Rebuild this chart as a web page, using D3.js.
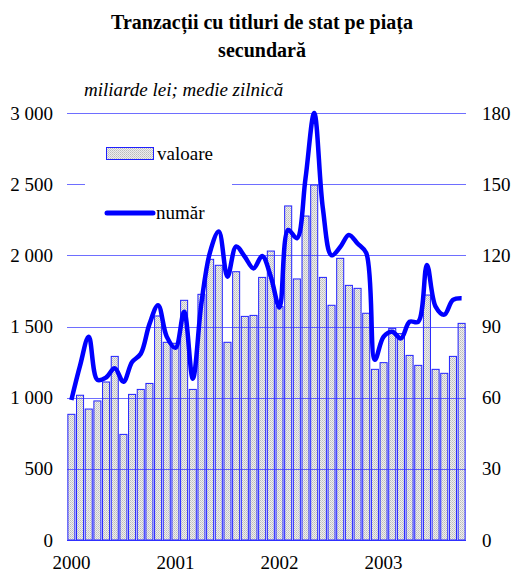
<!DOCTYPE html>
<html>
<head>
<meta charset="utf-8">
<script src="https://cdn.jsdelivr.net/npm/d3@7"></script>
<style>
  body { margin: 0; background: #fff; }
</style>
</head>
<body>
<div id="chart"></div>
<script>
// monthly data, Jan 2000 - Oct 2003
var years = ["2000", "2001", "2002", "2003"]
var months = d3.range(46).map(function(i) { return years[Math.floor(i / 12)] + "-" + (i % 12 + 1) })

// valoare: miliarde lei, medie zilnica (left axis)
var valoare = [883, 1017, 920, 977, 1110, 1290, 742, 1023, 1058, 1100, 1574, 1389,
               1382, 1684, 1058, 1726, 1972, 1930, 1389, 1885, 1571, 1578, 1845, 2030,
               1640, 2347, 1834, 2276, 2494, 1845, 1649, 1979, 1789, 1768, 1593, 1199,
               1246, 1487, 1450, 1297, 1227, 1721, 1199, 1171, 1290, 1522]

// numar tranzactii (right axis)
var numar = [59, 73.5, 85.7, 67.5, 68.5, 72.4, 66.7, 75, 78.5, 91, 99, 85.7,
             81, 96.2, 68, 100, 121.5, 130, 111, 123.7, 119.4, 114.5, 119.7, 111,
             98, 130.7, 127.2, 152.5, 180, 139.8, 120, 123.5, 128.6, 125, 121, 76,
             85.7, 87.8, 85, 92, 92, 115.9, 98.4, 95, 101.2, 101.9]

var leftTicks = [0, 500, 1000, 1500, 2000, 2500, 3000]
var rightTicks = [0, 30, 60, 90, 120, 150, 180]

var width = 512
var height = 575
var plot = { left: 67, right: 466, top: 113, bottom: 540 }
var serif = "'Liberation Serif', 'Times New Roman', 'DejaVu Serif', serif"

var svg = d3.select("#chart")
  .append("svg")
    .attr("width", width)
    .attr("height", height)
    .attr("font-family", serif)

// dotted grey fill of the bars
var pat = svg.append("defs").append("pattern")
    .attr("id", "dots")
    .attr("width", 2)
    .attr("height", 2)
    .attr("patternUnits", "userSpaceOnUse")
pat.append("rect").attr("width", 2).attr("height", 2).attr("fill", "#eeeeee")
pat.append("rect").attr("width", 1).attr("height", 1).attr("fill", "#bcbcbc")
pat.append("rect").attr("x", 1).attr("y", 1).attr("width", 1).attr("height", 1).attr("fill", "#cccccc")

var x = d3.scaleBand()
  .domain(months)
  .range([plot.left, plot.right])
  .paddingInner(0.19)
  .paddingOuter(0.1)

var yLeft = d3.scaleLinear().domain([0, 3000]).range([plot.bottom, plot.top])
var yRight = d3.scaleLinear().domain([0, 180]).range([plot.bottom, plot.top])

// titles
svg.append("text")
  .attr("x", 262).attr("y", 29)
  .attr("text-anchor", "middle")
  .attr("font-size", 20).attr("font-weight", "bold")
  .text("Tranzacții cu titluri de stat pe piața")
svg.append("text")
  .attr("x", 262).attr("y", 57)
  .attr("text-anchor", "middle")
  .attr("font-size", 20).attr("font-weight", "bold")
  .text("secundară")
svg.append("text")
  .attr("x", 84).attr("y", 96)
  .attr("font-size", 19).attr("font-style", "italic")
  .text("miliarde lei; medie zilnică")

// bars
svg.selectAll("rect.bar")
  .data(valoare)
  .enter()
  .append("rect")
    .attr("class", "bar")
    .attr("x", function(d, i) { return x(months[i]) })
    .attr("width", x.bandwidth())
    .attr("y", function(d) { return yLeft(d) })
    .attr("height", function(d) { return plot.bottom - yLeft(d) })
    .attr("fill", "url(#dots)")
    .attr("stroke", "#2020ff")
    .attr("stroke-width", 1)

// gridlines over the bars
svg.selectAll("line.grid")
  .data(leftTicks)
  .enter()
  .append("line")
    .attr("x1", plot.left)
    .attr("x2", plot.right)
    .attr("y1", function(d) { return Math.round(yLeft(d)) + 0.5 })
    .attr("y2", function(d) { return Math.round(yLeft(d)) + 0.5 })
    .attr("stroke", "#3030ff")
    .attr("stroke-opacity", function(d) { return d == 0 ? 1 : 0.7 })
    .attr("stroke-width", 1)

// legend (white box hides the grid behind it)
svg.append("rect")
  .attr("x", 85).attr("y", 128).attr("width", 147).attr("height", 108)
  .attr("fill", "#fff")
svg.append("rect")
  .attr("x", 106.5).attr("y", 147.5).attr("width", 47).attr("height", 12)
  .attr("fill", "url(#dots)").attr("stroke", "#2020ff")
svg.append("text")
  .attr("x", 157).attr("y", 160)
  .attr("font-size", 19)
  .text("valoare")
svg.append("line")
  .attr("x1", 107).attr("x2", 153).attr("y1", 213).attr("y2", 213)
  .attr("stroke", "#0000ff").attr("stroke-width", 5).attr("stroke-linecap", "round")
svg.append("text")
  .attr("x", 156).attr("y", 219)
  .attr("font-size", 19)
  .text("număr")

// numar line
var line = d3.line()
  .x(function(d, i) { return x(months[i]) + x.bandwidth() / 2 })
  .y(function(d) { return yRight(d) })
  .curve(d3.curveCatmullRom.alpha(0.5))

svg.append("path")
  .datum(numar)
  .attr("d", line)
  .attr("fill", "none")
  .attr("stroke", "#0000ff")
  .attr("stroke-width", 4.5)
  .attr("stroke-linejoin", "round")

// axes labels
svg.selectAll("text.yl")
  .data(leftTicks)
  .enter()
  .append("text")
    .attr("x", 53)
    .attr("y", function(d) { return yLeft(d) })
    .attr("dy", "0.35em")
    .attr("text-anchor", "end")
    .attr("font-size", 19)
    .text(function(d) { return d3.format(",")(d).replace(",", " ") })

svg.selectAll("text.yr")
  .data(rightTicks)
  .enter()
  .append("text")
    .attr("x", 482)
    .attr("y", function(d) { return yRight(d) })
    .attr("dy", "0.35em")
    .attr("font-size", 19)
    .text(function(d) { return d })

svg.selectAll("text.xl")
  .data(years)
  .enter()
  .append("text")
    .attr("x", function(d) { return x(d + "-1") + x.bandwidth() / 2 })
    .attr("y", 569)
    .attr("text-anchor", "middle")
    .attr("font-size", 19)
    .text(function(d) { return d })
</script>
</body>
</html>
